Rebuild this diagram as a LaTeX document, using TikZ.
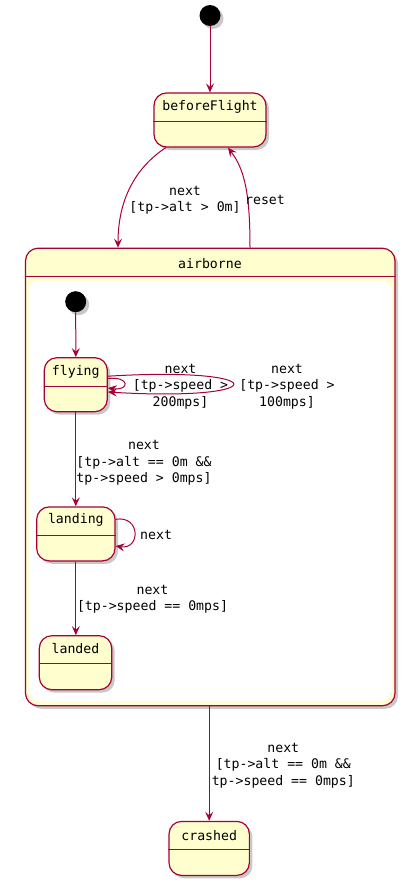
\documentclass[tikz,border=0pt]{standalone}
\usepackage{fontspec}
\newfontfamily\umlfont{DejaVu Sans Mono}
\usetikzlibrary{arrows.meta,shadows}
\definecolor{crim}{HTML}{A80036}
\definecolor{cream}{HTML}{FEFECE}
\begin{document}
\begin{tikzpicture}[x=1pt,y=-1pt,
  every node/.style={font=\umlfont\fontsize{13.2}{16.3}\selectfont, inner sep=0pt},
  shad/.style={drop shadow={shadow xshift=3pt, shadow yshift=-3pt, opacity=0.3, fill=black!70}},
  statebox/.style={rectangle, rounded corners=12.5pt, draw=crim, line width=1.2pt, fill=cream, shad, minimum height=54pt},
  hdr/.style={draw=crim, line width=1.2pt},
  initdot/.style={circle, fill=black, minimum size=21pt, shad},
  conn/.style={draw=crim, line width=1pt, -{Stealth[length=9pt,width=8pt,inset=3.5pt]}},
  lbl/.style={align=center, text=black},
  stxt/.style={text height=0.75em, text depth=0.25em}
]
\useasboundingbox (0,0) rectangle (416,883);

% airborne composite
\node (ab) [statebox, minimum width=369.5pt, minimum height=457.5pt] at (210.25,477) {};
\fill[white, rounded corners=10pt] (28.5,280.5) rectangle (391.7,701);
\draw[hdr] ([yshift=-29pt]ab.north west) -- ([yshift=-29pt]ab.north east);
\node (abt) [stxt] at (210,265.5) {airborne};

% initial states
\node (i0) [initdot] at (210,15.5) {};
\node (i1) [initdot] at (75.7,301.7) {};

% states
\node (bf) [statebox, minimum width=112pt] at (210,120) {};
\draw[hdr] ([yshift=-29pt]bf.north west) -- ([yshift=-29pt]bf.north east);
\node (bft) [stxt] at (210,108) {beforeFlight};

\node (fly) [statebox, minimum width=63pt] at (75.8,384.7) {};
\draw[hdr] ([yshift=-29pt]fly.north west) -- ([yshift=-29pt]fly.north east);
\node (flyt) [stxt] at (75.8,373) {flying};

\node (land) [statebox, minimum width=78.3pt] at (75.85,533.9) {};
\draw[hdr] ([yshift=-29pt]land.north west) -- ([yshift=-29pt]land.north east);
\node (landt) [stxt] at (75.85,521) {landing};

\node (ldd) [statebox, minimum width=72.4pt] at (75.5,662.7) {};
\draw[hdr] ([yshift=-28.5pt]ldd.north west) -- ([yshift=-28.5pt]ldd.north east);
\node (lddt) [stxt] at (75.5,651) {landed};

\node (cr) [statebox, minimum width=80.3pt] at (209.2,848.4) {};
\draw[hdr] ([yshift=-28.5pt]cr.north west) -- ([yshift=-28.5pt]cr.north east);
\node (crt) [stxt] at (209.2,837.5) {crashed};

% connectors
\draw[conn] (i0) -- (bf.north);
\draw[conn] (bf.212) .. controls (135,168) and (118,200) .. ([xshift=-92.25pt]ab.north);
\draw[conn] ([xshift=39.75pt]ab.north) .. controls (250,195) and (245,170) .. ([xshift=18pt]bf.south);
\node (lb1) [lbl] at (185,200) {next\\{}[tp->alt > 0m]};
\node (lb2) [lbl] at (265,200) {reset};

\draw[conn] (i1) -- (fly.north);
\draw[conn] ([yshift=8.5pt]fly.east) .. controls (275,366) and (275,402) .. ([yshift=-7.3pt]fly.east);
\draw[conn] ([yshift=6.2pt]fly.east) .. controls (130,376) and (130,391) .. ([yshift=-3.3pt]fly.east);
\node (lb3) [lbl] at (180.5,386.5) {next\\{}[tp->speed >\\200mps]};
\node (lb4) [lbl] at (287,386.5) {next\\{}[tp->speed >\\100mps]};

\draw[conn] (fly.south) -- (fly.south |- land.north);
\node (lb5) [lbl] at (144,463) {next\\{}[tp->alt == 0m \&\&\\tp->speed > 0mps]};

\draw[conn] ([yshift=14.6pt]land.east) .. controls (140.7,515) and (140.7,550) .. ([yshift=-12.1pt]land.east);
\node (lb6) [lbl, anchor=west] at (140,534.5) {next};

\draw[conn] (land.south) -- (land.south |- ldd.north);
\node (lb7) [lbl] at (152.5,599.5) {next\\{}[tp->speed == 0mps]};

\draw[conn] (cr.north |- ab.south) -- (cr.north);
\node (lb8) [lbl] at (283.3,765.5) {next\\{}[tp->alt == 0m \&\&\\tp->speed == 0mps]};
\end{tikzpicture}
\end{document}
